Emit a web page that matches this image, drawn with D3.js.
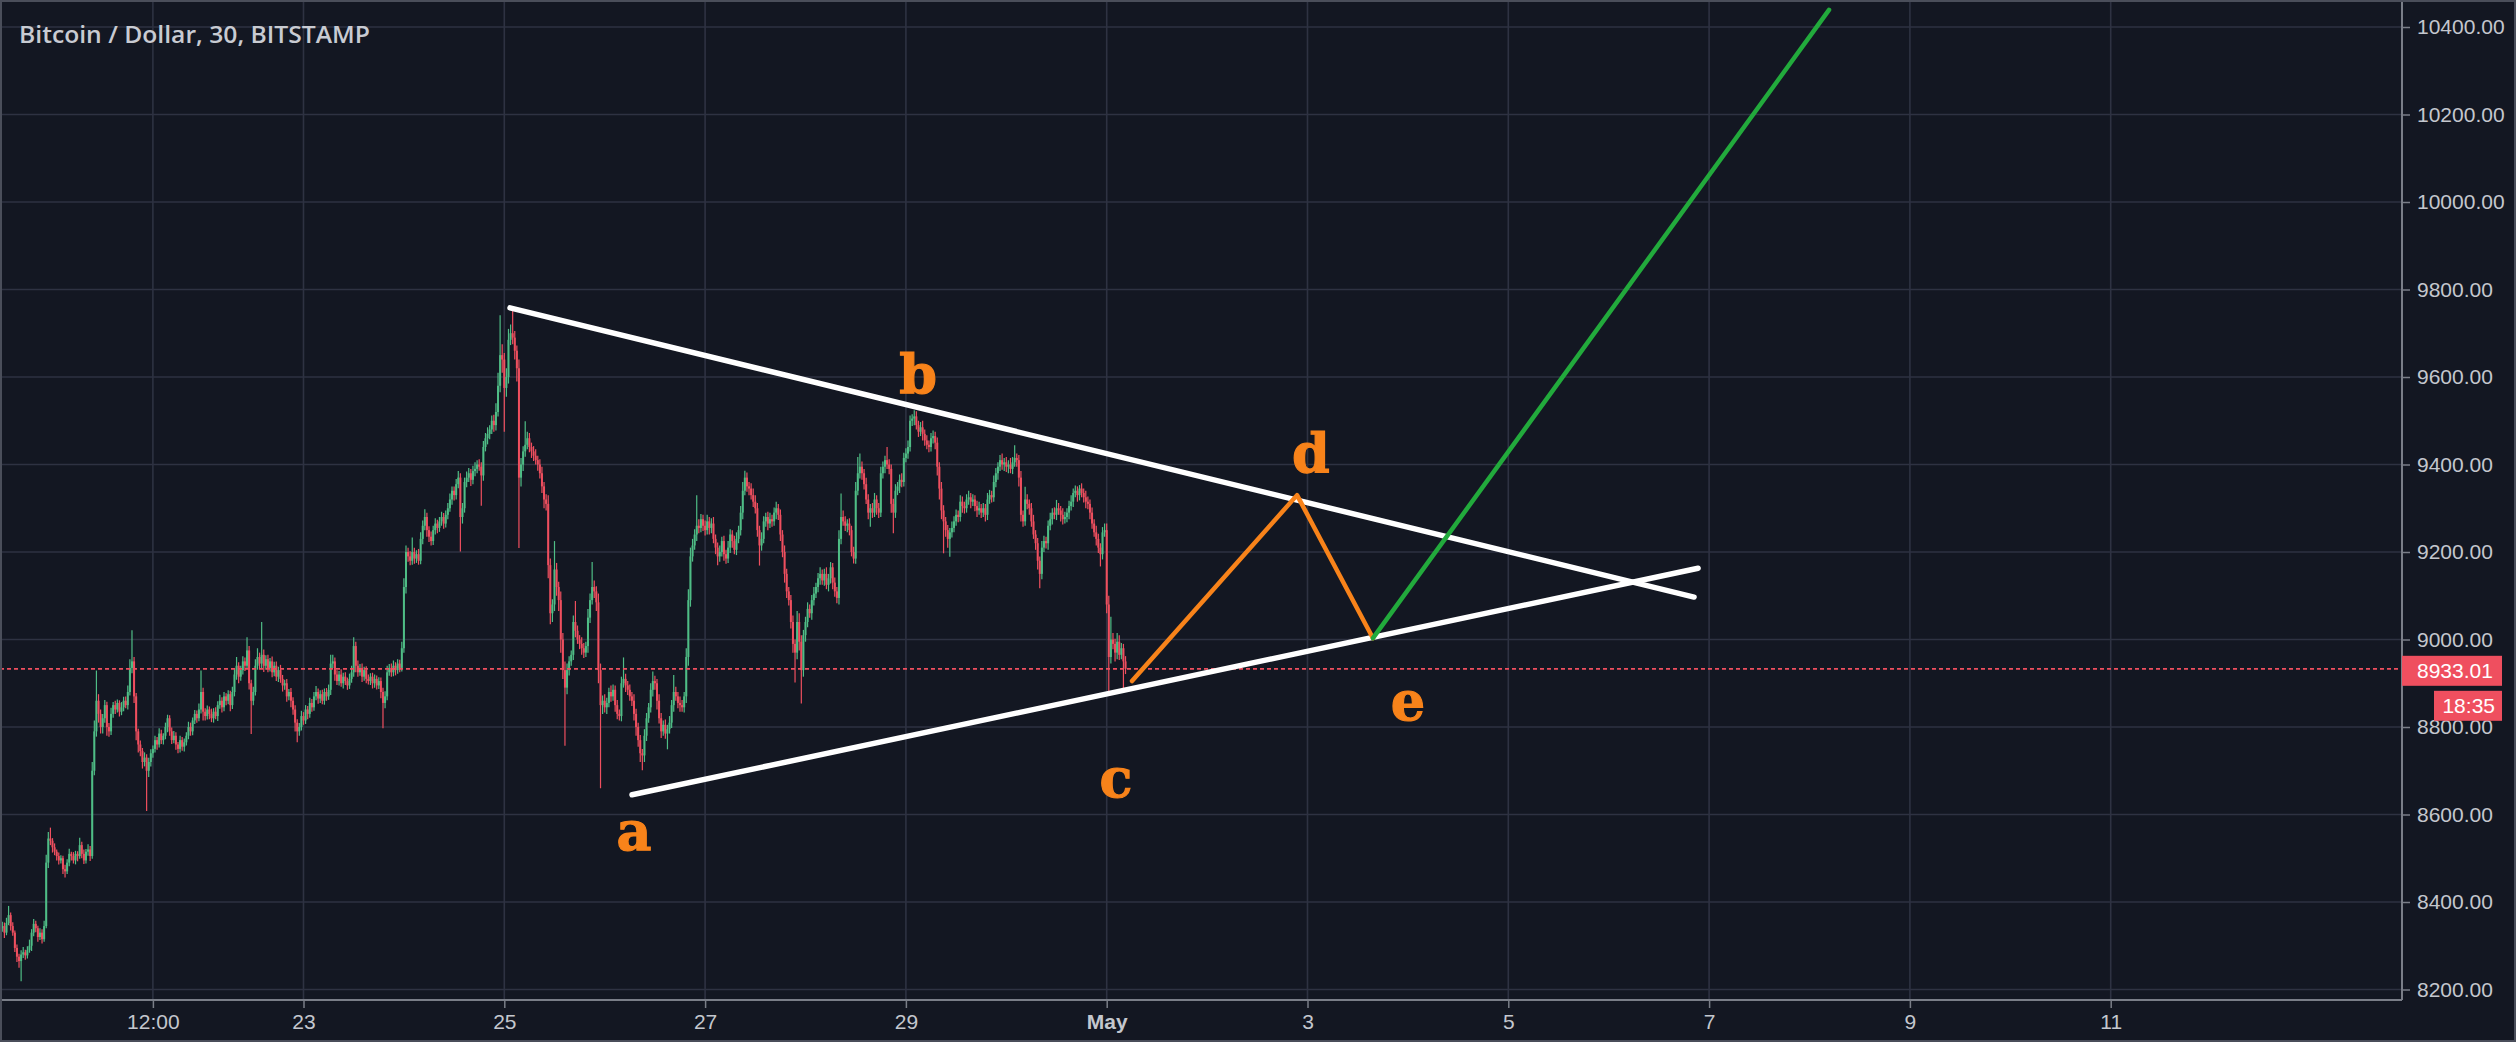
<!DOCTYPE html>
<html><head><meta charset="utf-8">
<script src="https://cdn.jsdelivr.net/npm/d3@7"></script>
<style>html,body{margin:0;padding:0;background:#131722;overflow:hidden}</style>
</head><body><svg id="c" width="2516" height="1042"></svg>
<script>
// ---------- data ----------
const title = "Bitcoin / Dollar, 30, BITSTAMP";
const startTime = Date.UTC(2018, 3, 20, 0, 0);   // first 30-min candle
const firstOpen = 8340;
const closes = [
8345,8330,8352,8370,8345,8330,8295,8275,8265,8280,8285,8278,8290,8300,8330,8350,8340,8320,8330,8315,8345,8490,8545,8540,
8525,8515,8505,8495,8500,8475,8470,8490,8510,8505,8495,8510,8505,8530,8510,8495,8515,8520,8505,8700,8790,8860,8830,8800,
8820,8850,8800,8790,8830,8850,8840,8855,8835,8845,8860,8850,8880,8935,8950,8870,8790,8760,8745,8720,8730,8700,8720,8740,
8750,8770,8760,8785,8770,8780,8800,8820,8790,8770,8780,8760,8750,8770,8755,8765,8780,8800,8790,8815,8830,8820,8840,8880,
8835,8825,8840,8830,8820,8835,8825,8850,8860,8845,8870,8860,8875,8850,8880,8920,8940,8915,8930,8950,8940,8975,8900,8860,
8880,8940,8960,8945,8965,8940,8955,8935,8950,8925,8940,8915,8930,8910,8895,8900,8870,8880,8860,8840,8810,8790,8800,8825,
8815,8840,8830,8855,8845,8870,8880,8865,8875,8860,8880,8870,8885,8945,8950,8920,8905,8920,8900,8915,8905,8895,8910,8925,
8985,8940,8925,8935,8915,8930,8910,8905,8915,8900,8910,8895,8905,8880,8855,8870,8925,8935,8925,8940,8930,8945,8935,8980,
9120,9200,9190,9180,9200,9185,9195,9180,9230,9260,9280,9250,9235,9225,9250,9265,9255,9270,9280,9265,9285,9300,9320,9340,
9330,9355,9370,9280,9300,9360,9370,9380,9365,9385,9390,9400,9395,9375,9440,9460,9470,9480,9500,9490,9520,9580,9650,9640,
9575,9600,9685,9700,9690,9660,9620,9370,9400,9430,9445,9460,9440,9430,9420,9410,9400,9380,9350,9320,9310,9170,9060,9080,
9160,9120,9090,9000,8930,8890,8930,8950,8965,9040,9020,9000,8990,8980,8970,8985,9050,9090,9120,9110,9085,8930,8850,8860,
8845,8855,8880,8870,8885,8850,8830,8825,8900,8910,8895,8885,8870,8860,8830,8800,8770,8740,8735,8780,8820,8845,8885,8905,
8900,8860,8820,8790,8805,8785,8795,8810,8850,8880,8870,8855,8850,8845,8870,8960,9090,9190,9215,9240,9260,9255,9275,9260,
9250,9270,9255,9265,9230,9210,9190,9200,9225,9195,9185,9210,9240,9225,9205,9230,9250,9290,9340,9370,9350,9345,9330,9315,
9300,9250,9215,9230,9270,9280,9265,9275,9270,9290,9300,9285,9240,9200,9150,9110,9090,9040,8990,8970,9040,8995,8930,9010,
9040,9070,9060,9090,9105,9120,9140,9150,9135,9150,9125,9140,9165,9130,9110,9095,9230,9280,9270,9260,9265,9250,9200,9185,
9340,9380,9395,9380,9355,9320,9290,9300,9290,9320,9300,9290,9380,9395,9410,9400,9390,9310,9290,9340,9350,9365,9360,9415,
9425,9440,9500,9505,9510,9490,9475,9485,9470,9455,9445,9440,9460,9465,9450,9395,9345,9295,9270,9250,9230,9245,9255,9270,
9285,9280,9315,9305,9300,9320,9325,9315,9320,9305,9295,9300,9290,9300,9285,9320,9330,9325,9360,9380,9395,9410,9400,9405,
9395,9400,9390,9405,9415,9410,9370,9285,9270,9320,9310,9300,9270,9240,9220,9180,9150,9210,9225,9220,9260,9275,9290,9285,
9300,9295,9285,9275,9280,9290,9305,9315,9335,9340,9330,9345,9335,9325,9315,9310,9290,9265,9245,9230,9210,9195,9245,9250,
9080,8960,9000,8990,8970,8995,8965,8980,8950,8933.01
];
const wickUp = [
10,8,12,21,6,9,5,8,7,10,12,6,9,14,8,11,7,6,10,8,12,18,15,25,
6,9,5,8,7,6,10,8,12,5,9,7,6,17,8,10,6,12,8,20,25,69,15,10,
10,12,8,9,14,7,10,8,6,12,9,10,15,20,71,10,8,6,9,7,12,8,10,9,
8,10,7,12,9,6,10,8,7,9,11,8,6,10,7,9,8,12,10,7,9,8,14,49,
10,8,9,7,12,8,10,9,14,8,10,7,9,8,12,15,20,8,10,12,9,30,10,8,
12,15,20,10,75,12,9,10,8,11,9,10,8,12,9,8,10,7,9,8,10,8,9,12,
9,10,8,12,9,10,14,8,9,10,8,9,12,20,15,9,10,8,12,9,10,8,12,15,
20,10,12,9,10,8,9,10,8,9,10,8,9,8,10,12,15,9,10,12,8,10,9,15,
20,15,10,12,33,10,9,12,15,12,18,10,9,12,10,12,9,10,12,9,10,12,14,10,
10,12,15,10,12,10,14,12,10,12,15,10,12,10,14,12,15,10,12,14,20,30,91,25,
15,20,25,20,53,15,12,20,15,12,54,15,12,10,12,15,10,12,15,10,12,20,15,12,
65,15,12,20,15,20,15,12,10,15,48,12,10,15,12,10,20,15,57,15,12,20,15,12,
15,12,10,15,12,10,12,10,15,49,12,10,12,10,15,12,10,12,10,15,12,10,15,22,
12,10,15,12,10,12,10,15,12,39,12,10,15,12,10,20,25,20,15,12,70,15,12,10,
12,15,10,12,15,10,12,15,10,12,10,15,12,10,12,15,10,15,20,16,12,10,12,15,
15,12,10,15,12,10,12,15,10,12,15,10,12,10,15,12,10,12,15,10,25,20,15,12,
12,15,10,12,15,10,12,15,10,12,15,10,12,10,12,10,20,54,15,12,10,12,10,12,
20,37,30,12,10,15,12,10,12,15,10,12,15,12,10,30,12,10,12,15,10,12,15,12,
12,15,12,10,14,12,10,12,15,10,12,10,12,13,10,12,10,15,12,10,12,10,15,12,
12,10,15,12,10,12,15,10,12,10,12,15,10,12,10,15,12,10,15,12,10,12,15,10,
12,10,15,12,29,10,12,15,10,29,12,10,12,15,10,12,10,15,12,10,12,15,10,12,
19,12,10,15,12,10,12,15,10,12,10,8,12,10,15,12,10,12,10,15,12,10,12,15,
15,20,52,15,12,20,15,12,10,12
];
const wickDn = [
8,12,6,5,10,7,9,12,15,46,8,10,7,6,12,8,9,11,7,10,6,5,12,10,
12,8,10,9,7,11,14,6,8,10,7,9,12,6,10,8,7,9,11,6,10,12,20,15,
15,10,20,12,8,9,10,7,11,8,9,7,10,8,12,15,20,18,12,15,10,92,14,10,
10,8,12,7,9,10,8,12,10,9,7,12,10,8,9,11,7,8,10,9,8,10,7,9,
20,10,8,12,9,10,7,11,8,12,9,10,8,14,9,10,12,15,9,10,12,8,14,76,
10,8,9,12,10,14,9,10,8,11,9,10,12,9,14,10,12,9,15,12,20,25,10,8,
10,8,12,9,10,8,9,12,10,8,9,10,8,12,10,14,9,10,8,12,9,10,8,9,
10,15,10,8,12,9,10,8,9,12,10,9,8,14,58,12,9,8,10,9,12,8,10,8,
10,15,12,10,9,12,10,9,8,12,10,15,12,10,9,10,12,9,10,12,9,10,8,12,
12,10,9,79,15,10,12,10,14,10,12,10,9,69,12,10,14,12,10,15,12,10,15,30,
100,20,15,12,15,20,30,161,20,15,12,10,12,15,12,10,14,12,15,20,15,30,25,20,
15,20,25,30,20,133,15,12,10,12,15,10,12,15,12,10,15,12,10,15,20,30,190,20,
12,15,10,12,10,15,12,10,12,10,15,12,10,12,15,20,15,20,34,15,12,10,12,15,
15,20,12,15,10,12,36,10,12,15,10,12,15,10,12,15,20,15,12,10,15,12,10,12,
12,10,15,12,10,15,20,12,10,15,12,10,12,15,10,12,10,12,15,10,12,15,10,12,
12,15,46,12,10,12,15,10,12,10,15,12,15,12,20,15,12,15,20,68,15,20,76,15,
15,12,10,15,12,10,12,15,10,12,10,15,12,15,12,12,15,12,10,12,15,12,10,11,
12,10,12,15,12,10,15,32,12,10,15,12,10,12,15,10,12,20,47,12,10,15,12,10,
10,12,10,12,15,10,12,10,15,12,10,12,10,12,15,20,25,20,73,15,20,41,12,10,
10,12,10,15,12,10,12,15,10,12,15,10,12,10,15,12,10,12,10,12,15,10,12,15,
12,15,10,12,10,15,20,15,12,10,12,15,12,10,15,20,33,12,10,12,15,10,12,10,
12,10,15,12,10,12,15,10,12,10,15,12,10,12,15,12,15,12,10,15,12,28,12,10,
20,80,15,12,20,15,12,10,65,12
];
const priceTicks = [8200,8400,8600,8800,9000,9200,9400,9600,9800,10000,10200,10400];
const timeTicks = [
  [Date.UTC(2018,3,21,12), "12:00"], [Date.UTC(2018,3,23), "23"], [Date.UTC(2018,3,25), "25"],
  [Date.UTC(2018,3,27), "27"], [Date.UTC(2018,3,29), "29"], [Date.UTC(2018,4,1), "May"],
  [Date.UTC(2018,4,3), "3"], [Date.UTC(2018,4,5), "5"], [Date.UTC(2018,4,7), "7"],
  [Date.UTC(2018,4,9), "9"], [Date.UTC(2018,4,11), "11"]
];
const lastPrice = 8933.01;
const countdown = "18:35";
// drawings: [time, price]
const upperLine = [[Date.UTC(2018,3,25,1,22), 9758], [Date.UTC(2018,4,6,20,24), 9097]];
const lowerLine = [[Date.UTC(2018,3,26,6,32), 8645], [Date.UTC(2018,4,6,21,22), 9163]];
const waveLine  = [[Date.UTC(2018,4,1,6,3), 8905], [Date.UTC(2018,4,2,21,30), 9330], [Date.UTC(2018,4,3,15,39), 9003]];
const breakLine = [[Date.UTC(2018,4,3,15,39), 9003], [Date.UTC(2018,4,8,4,40), 10439]];
const waveLabels = [
  ["a", Date.UTC(2018,3,26,7,0), 8519],
  ["b", Date.UTC(2018,3,29,2,54), 9563],
  ["c", Date.UTC(2018,4,1,2,14), 8640],
  ["d", Date.UTC(2018,4,3,0,50), 9383],
  ["e", Date.UTC(2018,4,4,0,0), 8815]
];

// ---------- layout ----------
const W = 2516, H = 1042, plotR = 2402, plotB = 1000;
const BG = "#131722", GRID = "#2e3242", TXT = "#c4c7ce", AXIS = "#7a7e88";
const UP = "#4fbd86", DN = "#ef4f5f", ORANGE = "#f8831a", GREEN = "#22aa3c";
const dayMs = 864e5;
const refT = Date.UTC(2018,3,23);
const x = d3.scaleUtc()
  .domain([new Date(refT - 3.0229*dayMs), new Date(refT + 20.9014*dayMs)])
  .range([0, plotR]);
const y = d3.scaleLinear().domain([8200, 10400]).range([989.5, 27]);

const svg = d3.select("#c");
svg.append("rect").attr("width", W).attr("height", H).attr("fill", BG);

const plot = svg.append("g");
plot.append("clipPath").attr("id","clip").append("rect").attr("x",0).attr("y",0).attr("width",plotR).attr("height",plotB);

// grid
const grid = plot.append("g").attr("stroke", GRID).attr("stroke-width", 1.6);
grid.selectAll("line.h").data(priceTicks).join("line").attr("class","h")
  .attr("x1", 0).attr("x2", plotR).attr("y1", d => y(d)).attr("y2", d => y(d));
grid.selectAll("line.v").data(timeTicks).join("line").attr("class","v")
  .attr("x1", d => x(new Date(d[0]))).attr("x2", d => x(new Date(d[0]))).attr("y1", 0).attr("y2", plotB);

// candles
const candles = closes.map((c, i) => {
  const o = i === 0 ? firstOpen : closes[i-1];
  return { t: new Date(startTime + i*18e5), o, c, h: Math.max(o,c) + wickUp[i], l: Math.min(o,c) - wickDn[i] };
});
const cg = plot.append("g").attr("clip-path","url(#clip)");
const bw = 2.0;
cg.selectAll("line.w").data(candles).join("line").attr("class","w")
  .attr("x1", d => x(d.t)).attr("x2", d => x(d.t))
  .attr("y1", d => y(d.h)).attr("y2", d => y(d.l))
  .attr("stroke", d => d.c >= d.o ? UP : DN).attr("stroke-width", 1.2);
cg.selectAll("rect.b").data(candles).join("rect").attr("class","b")
  .attr("x", d => x(d.t) - bw/2).attr("width", bw)
  .attr("y", d => y(Math.max(d.o, d.c)))
  .attr("height", d => Math.max(1.2, Math.abs(y(d.o) - y(d.c))))
  .attr("fill", d => d.c >= d.o ? UP : DN);

// last price line
plot.append("line").attr("x1", 0).attr("x2", plotR)
  .attr("y1", y(lastPrice)).attr("y2", y(lastPrice))
  .attr("stroke", DN).attr("stroke-width", 1.8).attr("stroke-dasharray", "4,3");

// drawings
const line = d3.line().x(d => x(new Date(d[0]))).y(d => y(d[1]));
const dg = plot.append("g").attr("fill","none").attr("stroke-linecap","round").attr("stroke-linejoin","round");
dg.append("path").attr("d", line(upperLine)).attr("stroke", "#ffffff").attr("stroke-width", 5.5);
dg.append("path").attr("d", line(lowerLine)).attr("stroke", "#ffffff").attr("stroke-width", 5.5);
dg.append("path").attr("d", line(waveLine)).attr("stroke", ORANGE).attr("stroke-width", 4.5);
dg.append("path").attr("d", line(breakLine)).attr("stroke", GREEN).attr("stroke-width", 4.5);

plot.selectAll("text.wl").data(waveLabels).join("text").attr("class","wl")
  .attr("x", d => x(new Date(d[1]))).attr("y", d => y(d[2]))
  .attr("text-anchor","middle").attr("fill", ORANGE)
  .attr("stroke", ORANGE).attr("stroke-width", 1.2)
  .attr("font-family","'DejaVu Serif', 'Liberation Serif', serif").attr("font-weight","bold")
  .attr("font-size", 54).text(d => d[0]);

// axes
const yAxis = d3.axisRight(y).tickValues(priceTicks).tickFormat(d3.format(".2f")).tickSize(8).tickPadding(7);
const ya = svg.append("g").attr("transform", `translate(${plotR},0)`).call(yAxis);
const xAxis = d3.axisBottom(x).tickValues(timeTicks.map(d => new Date(d[0])))
  .tickFormat((d, i) => timeTicks[i][1]).tickSize(8).tickPadding(6);
const xa = svg.append("g").attr("transform", `translate(0,${plotB})`).call(xAxis);
[ya, xa].forEach(g => {
  g.select(".domain").remove();
  g.selectAll(".tick line").attr("stroke", AXIS).attr("stroke-width", 1.5);
  g.selectAll("text").attr("fill", TXT).attr("font-family", "'Liberation Sans', Arial, sans-serif").attr("font-size", 21);
});
xa.selectAll("text").filter(d => d.getUTCDate() === 1).attr("font-weight", "bold");

// axis borders
svg.append("line").attr("x1", plotR).attr("x2", plotR).attr("y1", 0).attr("y2", plotB).attr("stroke", AXIS).attr("stroke-width", 2);
svg.append("line").attr("x1", 0).attr("x2", plotR).attr("y1", plotB).attr("y2", plotB).attr("stroke", AXIS).attr("stroke-width", 2);
svg.append("rect").attr("x", 1).attr("y", 1).attr("width", W-2).attr("height", H-2).attr("fill","none").attr("stroke","#4a4e5a").attr("stroke-width", 2);

// price label + countdown
const ly = y(lastPrice);
svg.append("rect").attr("x", plotR).attr("y", ly - 13).attr("width", 100).attr("height", 30).attr("fill", DN);
svg.append("text").attr("x", plotR + 15).attr("y", ly + 2).attr("dy", "0.35em").attr("fill", "#ffffff")
  .attr("font-family","'Liberation Sans', Arial, sans-serif").attr("font-size", 21).text(d3.format(".2f")(lastPrice));
svg.append("rect").attr("x", plotR + 32).attr("y", ly + 22).attr("width", 68).attr("height", 30).attr("fill", DN);
svg.append("text").attr("x", plotR + 93).attr("y", ly + 37).attr("dy", "0.35em").attr("text-anchor","end").attr("fill", "#ffffff")
  .attr("font-family","'Liberation Sans', Arial, sans-serif").attr("font-size", 21).text(countdown);

// title
svg.append("text").attr("x", 19).attr("y", 43).attr("fill", "#c8cbd2")
  .attr("font-family", "'Open Sans', 'Noto Sans', sans-serif").attr("font-weight", 600)
  .attr("font-size", 24).attr("textLength", 351).attr("lengthAdjust", "spacingAndGlyphs").text(title);
</script></body></html>
